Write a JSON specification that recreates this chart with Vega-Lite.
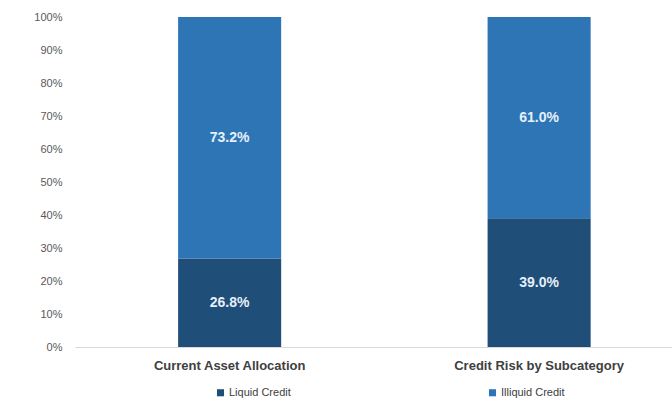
{
  "$schema": "https://vega.github.io/schema/vega-lite/v6.json",
  "width": 597,
  "height": 330,
  "autosize": {"type": "none"},
  "padding": {"left": 75, "top": 17, "right": 0, "bottom": 59},
  "background": "white",
  "data": {"values": [
    {"category": "Current Asset Allocation", "type": "Liquid Credit", "value": 0.268, "ord": 1},
    {"category": "Current Asset Allocation", "type": "Illiquid Credit", "value": 0.732, "ord": 2},
    {"category": "Credit Risk by Subcategory", "type": "Liquid Credit", "value": 0.390, "ord": 1},
    {"category": "Credit Risk by Subcategory", "type": "Illiquid Credit", "value": 0.610, "ord": 2}
  ]},
  "transform": [
    {"stack": "value", "groupby": ["category"], "sort": [{"field": "ord", "order": "ascending"}], "as": ["v0", "v1"]},
    {"calculate": "(datum.v0 + datum.v1) / 2", "as": "mid"}
  ],
  "encoding": {
    "x": {
      "field": "category", "type": "nominal", "sort": null,
      "scale": {"paddingInner": 0.667, "paddingOuter": 0.298, "align": 0.559},
      "axis": {
        "title": null, "labelAngle": 0, "ticks": false, "domainColor": "#d9d9d9", "domainWidth": 1,
        "labelFont": "Liberation Sans Narrow, Liberation Sans", "labelFontWeight": "bold", "labelFontSize": 13,
        "labelColor": "#404040", "labelPadding": 12
      }
    }
  },
  "layer": [
    {
      "mark": {"type": "bar"},
      "encoding": {
        "y": {
          "field": "v0", "type": "quantitative",
          "scale": {"domain": [0, 1], "nice": false},
          "axis": {
            "title": null, "grid": false, "domain": false, "ticks": false,
            "values": [0, 0.1, 0.2, 0.3, 0.4, 0.5, 0.6, 0.7, 0.8, 0.9, 1],
            "format": ".0%", "labelOverlap": false, "labelFont": "Liberation Sans", "labelFontSize": 11,
            "labelColor": "#595959", "labelPadding": 13
          }
        },
        "y2": {"field": "v1"},
        "color": {
          "field": "type", "type": "nominal",
          "scale": {"domain": ["Liquid Credit", "Illiquid Credit"], "range": ["#1f4e79", "#2e75b6"]},
          "legend": {
            "title": null, "orient": "none", "direction": "horizontal", "legendX": 140, "legendY": 370,
            "symbolType": "square", "symbolSize": 50, "labelFont": "Liberation Sans", "labelFontSize": 11,
            "labelColor": "#404040", "columnPadding": 196, "labelOffset": 3
          }
        }
      }
    },
    {
      "mark": {"type": "text", "font": "Liberation Sans", "fontWeight": "bold", "fontSize": 14, "color": "#e6f0fa"},
      "encoding": {
        "y": {
          "field": "mid", "type": "quantitative",
          "axis": {
            "title": null, "grid": false, "domain": false, "ticks": false,
            "values": [0, 0.1, 0.2, 0.3, 0.4, 0.5, 0.6, 0.7, 0.8, 0.9, 1],
            "format": ".0%", "labelOverlap": false, "labelFont": "Liberation Sans", "labelFontSize": 11,
            "labelColor": "#595959", "labelPadding": 13
          }
        },
        "text": {"field": "value", "type": "quantitative", "format": ".1%"}
      }
    }
  ],
  "config": {"view": {"stroke": null}, "axisY": {"labelOverlap": false}}
}
